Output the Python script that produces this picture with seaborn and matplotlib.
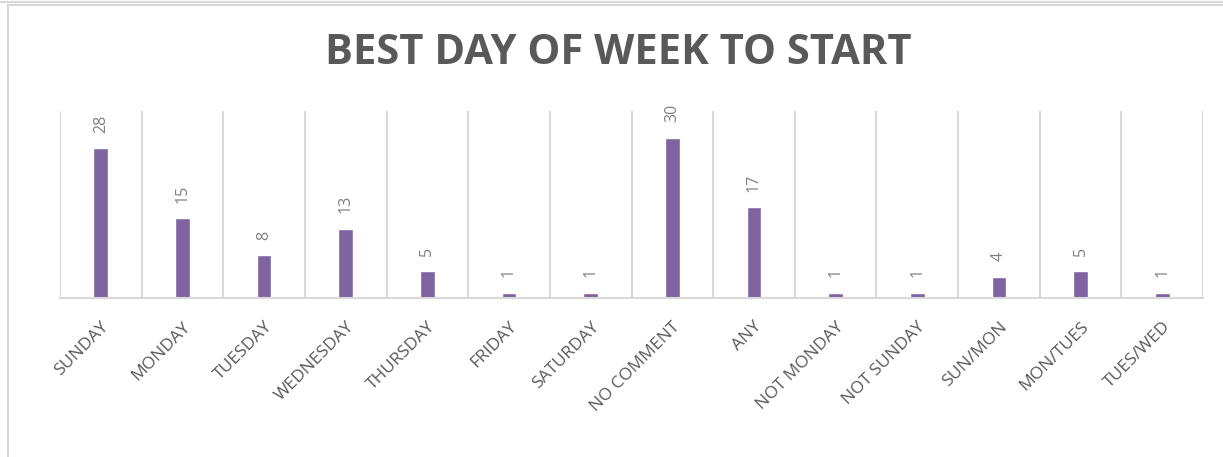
import matplotlib
matplotlib.use("Agg")
import matplotlib.pyplot as plt
import seaborn as sns
from matplotlib.patches import Rectangle
from matplotlib.lines import Line2D

# chart data
days = ["SUNDAY", "MONDAY", "TUESDAY", "WEDNESDAY", "THURSDAY", "FRIDAY", "SATURDAY",
        "NO COMMENT", "ANY", "NOT MONDAY", "NOT SUNDAY", "SUN/MON", "MON/TUES", "TUES/WED"]
counts = [28, 15, 8, 13, 5, 1, 1, 30, 17, 1, 1, 4, 5, 1]
title = "BEST DAY OF WEEK TO START"

# colours
bar_colour = "#8064A2"
grid_colour = "#D9D9D9"
text_colour = "#595959"
label_colour = "#808080"

sns.set_theme(style="white")
plt.rcParams["font.family"] = ["Open Sans", "DejaVu Sans"]

fig = plt.figure(figsize=(12.23, 4.57), dpi=100)
ax = fig.add_axes([60 / 1223, 1 - 298 / 457, (1203 - 60) / 1223, (298 - 111) / 457])

sns.barplot(x=days, y=counts, color=bar_colour, saturation=1, width=0.18, ax=ax)

ax.set_ylim(0, 35)
ax.set_xlim(-0.5, len(days) - 0.5)
ax.set_yticks([])
ax.set_ylabel("")
ax.set_xlabel("")

# vertical gridlines between categories
ax.set_xticks([i - 0.5 for i in range(len(days) + 1)], minor=True)
ax.grid(True, which="minor", axis="x", color=grid_colour, linewidth=1.5)
ax.tick_params(axis="x", which="both", length=0, pad=15)
for lab in ax.get_xticklabels():
    lab.set_rotation(45)
    lab.set_ha("right")
    lab.set_rotation_mode("anchor")
    lab.set_fontsize(12.5)
    lab.set_color(text_colour)

for side in ["top", "right", "left"]:
    ax.spines[side].set_visible(False)
ax.spines["bottom"].set_color(grid_colour)
ax.spines["bottom"].set_linewidth(1.5)

# value labels
for cont in ax.containers:
    ax.bar_label(cont, padding=11, rotation=90, fontsize=11.5, color=label_colour)

fig.text(618 / 1223, 1 - 53 / 457, title, ha="center", va="center",
         fontsize=30, fontweight="bold", color=text_colour)

# chart border like the spreadsheet frame
fig.patches.append(Rectangle((8 / 1223, -0.1), 1.2, 1 - 5 / 457 + 0.1,
                             transform=fig.transFigure, fill=False,
                             edgecolor=grid_colour, linewidth=1.5))
fig.lines.append(Line2D([0, 1], [1 - 1.5 / 457] * 2, transform=fig.transFigure,
                        color=grid_colour, linewidth=1.5))

fig.savefig("out.png", dpi=100)
